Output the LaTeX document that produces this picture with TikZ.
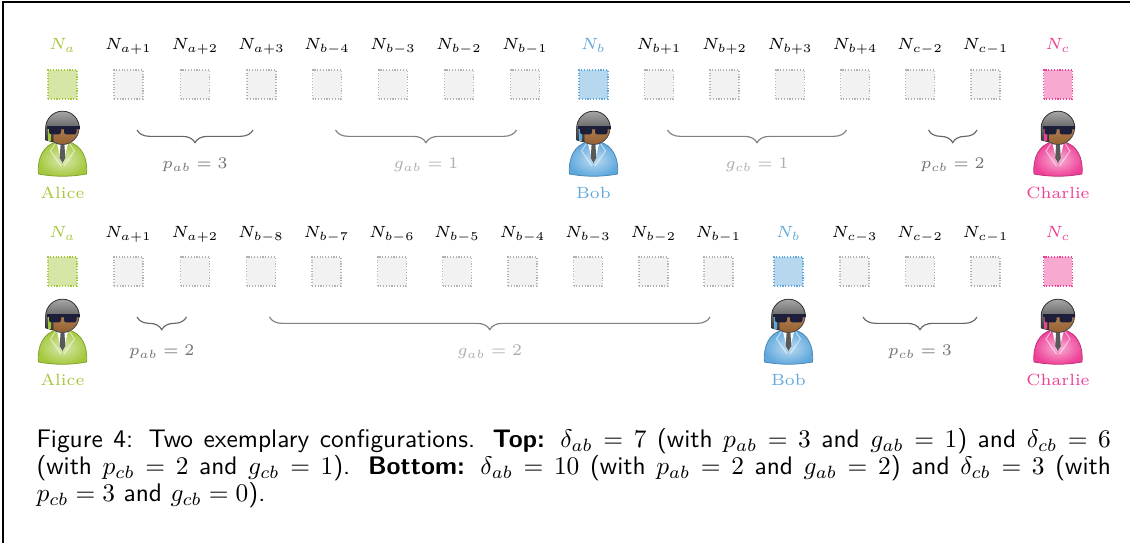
\RequirePackage{fix-cm}
\documentclass[tikz,border=0pt]{standalone}
\usetikzlibrary{decorations.pathreplacing,calc}
\definecolor{alicec}{HTML}{A3C83C}
\definecolor{alicefill}{HTML}{D5E6A6}
\definecolor{bobc}{HTML}{5FA8DD}
\definecolor{bobfill}{HTML}{B7D7EE}
\definecolor{charc}{HTML}{EE3F97}
\definecolor{charfill}{HTML}{F7A9CF}
\definecolor{skin}{HTML}{B9783E}
\definecolor{shades}{HTML}{1C1E3A}
\DeclareMathSizes{6.4}{6.4}{4.7}{4.2}
\newcommand\diafont{\fontsize{6.4}{7.5}\selectfont}
\tikzset{
  cell/.style={minimum size=11.4pt, inner sep=0pt, line width=0.45pt, dash pattern=on 0.45pt off 0.65pt},
  cell-g/.style={cell, draw=black!30, fill=black!5},
  cell-a/.style={cell, draw=alicec, fill=alicefill},
  cell-b/.style={cell, draw=bobc, fill=bobfill},
  cell-c/.style={cell, draw=charc, fill=charfill},
  lab/.style={font=\diafont, anchor=base, inner sep=0pt},
  lab-g/.style={lab, text=black},
  lab-a/.style={lab, text=alicec},
  lab-b/.style={lab, text=bobc},
  lab-c/.style={lab, text=charc},
  namelab/.style={font=\diafont, anchor=base, inner sep=0pt},
  brace-p/.style={decorate, decoration={brace, mirror, amplitude=5pt}, draw=black!60, line width=0.45pt},
  brace-g/.style={decorate, decoration={brace, mirror, amplitude=5pt}, draw=black!50, line width=0.45pt},
  bracelab-p/.style={font=\diafont, anchor=base, inner sep=0pt, text=black!55},
  bracelab-g/.style={font=\diafont, anchor=base, inner sep=0pt, text=black!32},
  pics/agent/.style={code={
    \shadedraw[inner color=#1!40!white, outer color=#1, draw=#1!80!black, line width=0.3pt]
      (-24,46) .. controls (-25.5,30) and (-19,17) .. (-6,14) -- (6,14)
      .. controls (19,17) and (25.5,30) .. (24,46) .. controls (8,49) and (-8,49) .. cycle;
    \fill[white] (-6,14) -- (6,14) -- (1,34) -- (-1,34) -- cycle;
    \fill[black!65] (-1.8,15) -- (1.8,15) -- (2.8,30) -- (0,35) -- (-2.8,30) -- cycle;
    \draw[white, opacity=0.55, line width=0.4pt] (-6,14) -- (-12,23) -- (-1.5,38);
    \draw[white, opacity=0.55, line width=0.4pt] (6,14) -- (12,23) -- (1.5,38);
    \shadedraw[top color=skin!75!white, bottom color=skin!80!black, draw=black!70, line width=0.35pt]
      (0,0) circle[radius=16.5];
    \shadedraw[top color=black!35, bottom color=black!80, draw=black!80, line width=0.3pt]
      (-16.8,12) -- (-16.8,0) arc[start angle=180, end angle=360, radius=16.8]
      -- (16.8,1) -- (-9.5,1) -- (-9.5,14) -- cycle;
    \fill[#1] (-14.5,1) rectangle (-11.5,13.5);
    \fill[shades] (-15.5,-1.5) rectangle (17,1);
    \fill[shades, rounded corners=1pt] (-13.5,-1.5) rectangle (-1.5,6.5);
    \fill[shades, rounded corners=1pt] (1.5,-1.5) rectangle (14,6.5);
  }}
}
\begin{document}
\begin{tikzpicture}[x=0.3937pt,y=-0.3937pt]
\useasboundingbox (0,0) rectangle (1130,543);
\draw[line width=0.7pt] (3,543) -- (3,2) -- (1130,2);
% top row
\foreach \x/\lab/\k [count=\i from 0] in {62.5/N_a/a, 128.5/N_{a+1}/g, 195/N_{a+2}/g, 261.5/N_{a+3}/g, 327/N_{b-4}/g, 393/N_{b-3}/g, 459/N_{b-2}/g, 525/N_{b-1}/g, 593.5/N_b/b, 659/N_{b+1}/g, 724.5/N_{b+2}/g, 790/N_{b+3}/g, 855/N_{b+4}/g, 920/N_{c-2}/g, 985.5/N_{c-1}/g, 1058/N_c/c}{
  \node[cell-\k] (t\i) at (\x,84.5) {};
  \node[lab-\k] (tl\i) at (\x,50) {$\lab$};
}
% bottom row
\foreach \x/\lab/\k [count=\i from 0] in {62.5/N_a/a, 128.5/N_{a+1}/g, 195/N_{a+2}/g, 261/N_{b-8}/g, 326.5/N_{b-7}/g, 392/N_{b-6}/g, 457/N_{b-5}/g, 522.5/N_{b-4}/g, 588/N_{b-3}/g, 653.5/N_{b-2}/g, 718.5/N_{b-1}/g, 788.5/N_b/b, 854.5/N_{c-3}/g, 920/N_{c-2}/g, 985.5/N_{c-1}/g, 1058/N_c/c}{
  \node[cell-\k] (b\i) at (\x,271.5) {};
  \node[lab-\k] (bl\i) at (\x,238) {$\lab$};
}
% people top
\pic at (62.5,128) {agent=alicec};
\pic at (593.5,128) {agent=bobc};
\pic at (1058,128) {agent=charc};
\node[namelab, text=alicec] (alice1) at (62.5,199) {Alice};
\node[namelab, text=bobc] (bob1) at (593.5,199) {Bob};
\node[namelab, text=charc] (charlie1) at (1058,199) {Charlie};
% people bottom
\pic at (62.5,316) {agent=alicec};
\pic at (788.5,316) {agent=bobc};
\pic at (1058,316) {agent=charc};
\node[namelab, text=alicec] (alice2) at (62.5,386) {Alice};
\node[namelab, text=bobc] (bob2) at (788.5,386) {Bob};
\node[namelab, text=charc] (charlie2) at (1058,386) {Charlie};
% braces top
\draw[brace-p] ($(t1)+(8.5,45.5)$) -- ($(t3)+(-8.5,45.5)$);
\node[bracelab-p] (pab1) at ($(t1)!0.5!(t3)+(0,84.5)$) {$p_{ab}=3$};
\draw[brace-g] ($(t4)+(8.5,45.5)$) -- ($(t7)+(-8.5,45.5)$);
\node[bracelab-g] (gab1) at ($(t4)!0.5!(t7)+(0,84.5)$) {$g_{ab}=1$};
\draw[brace-g] ($(t9)+(8.5,45.5)$) -- ($(t12)+(-8.5,45.5)$);
\node[bracelab-g] (gcb1) at ($(t9)!0.5!(t12)+(0,84.5)$) {$g_{cb}=1$};
\draw[brace-p] ($(t13)+(8.5,45.5)$) -- ($(t14)+(-8.5,45.5)$);
\node[bracelab-p] (pcb1) at ($(t13)!0.5!(t14)+(0,84.5)$) {$p_{cb}=2$};
% braces bottom
\draw[brace-p] ($(b1)+(8.5,45.5)$) -- ($(b2)+(-8.5,45.5)$);
\node[bracelab-p] (pab2) at ($(b1)!0.5!(b2)+(0,84.5)$) {$p_{ab}=2$};
\draw[brace-g] ($(b3)+(8.5,45.5)$) -- ($(b10)+(-8.5,45.5)$);
\node[bracelab-g] (gab2) at ($(b3)!0.5!(b10)+(0,84.5)$) {$g_{ab}=2$};
\draw[brace-p] ($(b12)+(8.5,45.5)$) -- ($(b14)+(-8.5,45.5)$);
\node[bracelab-p] (pcb2) at ($(b12)!0.5!(b14)+(0,84.5)$) {$p_{cb}=3$};
% caption
\node[anchor=north west, inner sep=0pt, text width=423pt, align=justify,
      font=\sffamily\fontsize{10}{10.63}\selectfont] (cap) at (36,428)
 {Figure 4: Two exemplary configurations. \textbf{Top:} $\delta_{ab}=7$ (with $p_{ab}=3$ and $g_{ab}=1$) and $\delta_{cb}=6$\linebreak
 (with $p_{cb}=2$ and $g_{cb}=1$). \textbf{Bottom:} $\delta_{ab}=10$ (with $p_{ab}=2$ and $g_{ab}=2$) and $\delta_{cb}=3$ (with\linebreak
 $p_{cb}=3$ and $g_{cb}=0$).};
\end{tikzpicture}
\end{document}
